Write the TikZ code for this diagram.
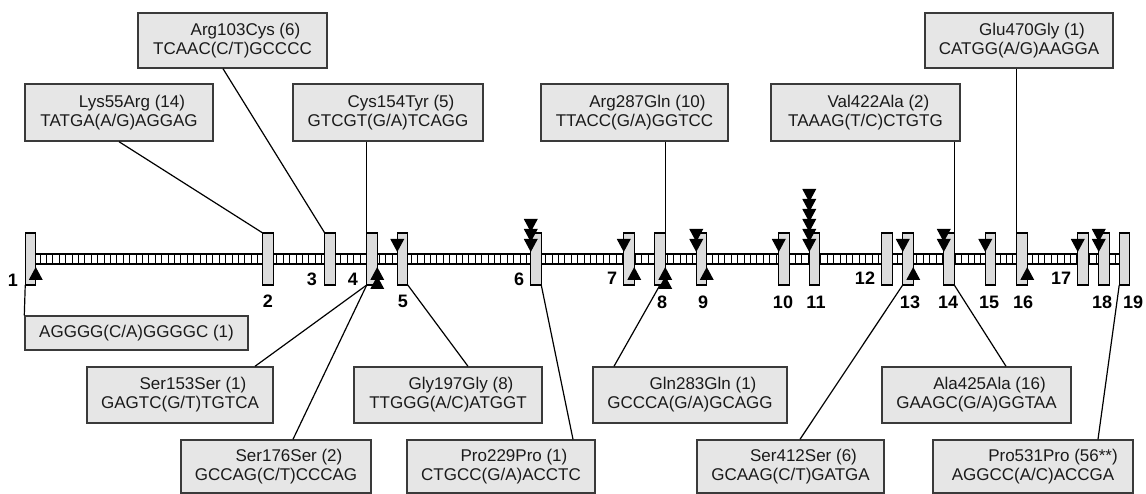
\documentclass[tikz,border=0pt]{standalone}
\usepackage{fontspec}
\setmainfont{Liberation Sans}
\definecolor{exfill}{HTML}{DCDCDC}
\definecolor{boxfill}{HTML}{E6E6E6}
\definecolor{boxline}{HTML}{3A3A3A}
\definecolor{textcol}{HTML}{1A1A1A}
\begin{document}
\begin{tikzpicture}[x=1pt,y=-1pt,
  exon/.style={draw=black, fill=exfill, line width=1.2pt, minimum width=10.5pt, minimum height=52pt, inner sep=0pt, outer sep=0pt},
  snpbox/.style={draw=boxline, fill=boxfill, line width=1.4pt, inner sep=0pt, align=center, font=\fontsize{17}{19}\selectfont, text=textcol},
  num/.style={font=\bfseries\fontsize{18}{20}\selectfont, inner sep=0pt},
  conn/.style={line width=1.2pt, black},
  dn/.pic={\fill[black] (0,0) -- (-7,-13) -- (7,-13) -- cycle;},
  upt/.pic={\fill[black] (0,0) -- (-7,13) -- (7,13) -- cycle;},
]
\useasboundingbox (0,0) rectangle (1146,494);
% intron ladder
\draw[line width=1.2pt] (36,254) -- (1119,254) (36,264) -- (1119,264);
\foreach \i in {0,...,168} \draw[line width=0.9pt] ({40+6.4*\i},254) -- ({40+6.4*\i},264);
% exons
\foreach \n/\x in {1/30.5,2/268,3/330,4/372,5/402.5,6/536,7/629,8/660,9/701.5,10/784,11/814.5,12/887,13/908,14/949,15/990.5,16/1022,17/1083,18/1104,19/1124.5}
  \node[exon] (ex\n) at (\x,259) {};
% exon numbers
\foreach \n/\x/\y in {1/13/280,2/268/301,3/312/279,4/353/279,5/403/301,6/519/279,7/612/278,8/662/302,9/703/302,10/783/302,11/816/302,12/865/278,13/910/302,14/948/302,15/989/302,16/1023/302,17/1061/278,18/1102/302,19/1133/302}
  \node[num] (n\n) at (\x,\y) {\n};
% down triangles (above line)
\foreach \e/\k in {5/1,6/3,7/1,9/2,10/1,11/6,13/1,14/2,15/1,17/1,18/2}
  \foreach \j in {1,...,\k}
    \pic at ([yshift={7pt+10pt*(\j-1)}]ex\e.west) {dn};
% up triangles (below line)
\foreach \e/\k in {1/1,4/2,7/1,8/2,9/1,13/1,16/1}
  \foreach \j in {1,...,\k}
    \pic at ([yshift={-8pt-9pt*(\j-1)}]ex\e.east) {upt};
% SNP boxes
\node[snpbox, minimum width=188pt, minimum height=57pt] (lys) at (119,112.5) {\hspace*{26pt}Lys55Arg (14)\\TATGA(A/G)AGGAG};
\node[snpbox, minimum width=189pt, minimum height=55pt] (arg103) at (232.5,40.5) {\hspace*{26pt}Arg103Cys (6)\\TCAAC(C/T)GCCCC};
\node[snpbox, minimum width=190pt, minimum height=57pt] (cys) at (388,112.5) {\hspace*{26pt}Cys154Tyr (5)\\GTCGT(G/A)TCAGG};
\node[snpbox, minimum width=187pt, minimum height=57pt] (arg287) at (634.5,112.5) {\hspace*{26pt}Arg287Gln (10)\\TTACC(G/A)GGTCC};
\node[snpbox, minimum width=189pt, minimum height=57pt] (val) at (865.5,112.5) {\hspace*{26pt}Val422Ala (2)\\TAAAG(T/C)CTGTG};
\node[snpbox, minimum width=188pt, minimum height=55pt] (glu) at (1019,40.5) {\hspace*{26pt}Glu470Gly (1)\\CATGG(A/G)AAGGA};
\node[snpbox, minimum width=223pt, minimum height=34pt] (agg) at (136.5,333) {AGGGG(C/A)GGGGC (1)};
\node[snpbox, minimum width=186pt, minimum height=56pt] (ser153) at (180,395) {\hspace*{26pt}Ser153Ser (1)\\GAGTC(G/T)TGTCA};
\node[snpbox, minimum width=190pt, minimum height=53pt] (ser176) at (276,466.5) {\hspace*{26pt}Ser176Ser (2)\\GCCAG(C/T)CCCAG};
\node[snpbox, minimum width=188pt, minimum height=56pt] (gly) at (448,395) {\hspace*{26pt}Gly197Gly (8)\\TTGGG(A/C)ATGGT};
\node[snpbox, minimum width=188pt, minimum height=53pt] (pro229) at (501,466.5) {\hspace*{26pt}Pro229Pro (1)\\CTGCC(G/A)ACCTC};
\node[snpbox, minimum width=194pt, minimum height=56pt] (gln) at (690,395) {\hspace*{26pt}Gln283Gln (1)\\GCCCA(G/A)GCAGG};
\node[snpbox, minimum width=187pt, minimum height=53pt] (ser412) at (790.5,466.5) {\hspace*{26pt}Ser412Ser (6)\\GCAAG(C/T)GATGA};
\node[snpbox, minimum width=189pt, minimum height=56pt] (ala) at (976.5,395) {\hspace*{26pt}Ala425Ala (16)\\GAAGC(G/A)GGTAA};
\node[snpbox, minimum width=200pt, minimum height=53pt] (pro531) at (1033,466.5) {\hspace*{40pt}Pro531Pro (56**)\\AGGCC(A/C)ACCGA};
% connectors
\draw[conn] (lys.south) -- (ex2.north west);
\draw[conn] ([xshift=-9.5pt]arg103.south) -- (ex3.north west);
\draw[conn] (cys.south -| ex4.north west) -- (ex4.north west);
\draw[conn] (arg287.south -| ex8.north east) -- (ex8.north east);
\draw[conn] (val.south -| ex14.north east) -- (ex14.north east);
\draw[conn] (glu.south -| ex16.north west) -- (ex16.north west);
\draw[conn] (ex1.south west) -- (agg.north west);
\draw[conn] (ex4.south west) -- ([xshift=75pt]ser153.north);
\draw[conn] (ex4.south west) -- ([xshift=17pt]ser176.north);
\draw[conn] (ex5.south east) -- ([xshift=20pt]gly.north);
\draw[conn] (ex6.south east) -- ([xshift=72pt]pro229.north);
\draw[conn] (ex8.south) -- ([xshift=-76pt]gln.north);
\draw[conn] (ex13.south west) -- ([xshift=9.5pt]ser412.north);
\draw[conn] (ex14.south east) -- ([xshift=29.5pt]ala.north);
\draw[conn] (ex19.south west) -- ([xshift=65pt]pro531.north);
\end{tikzpicture}
\end{document}
